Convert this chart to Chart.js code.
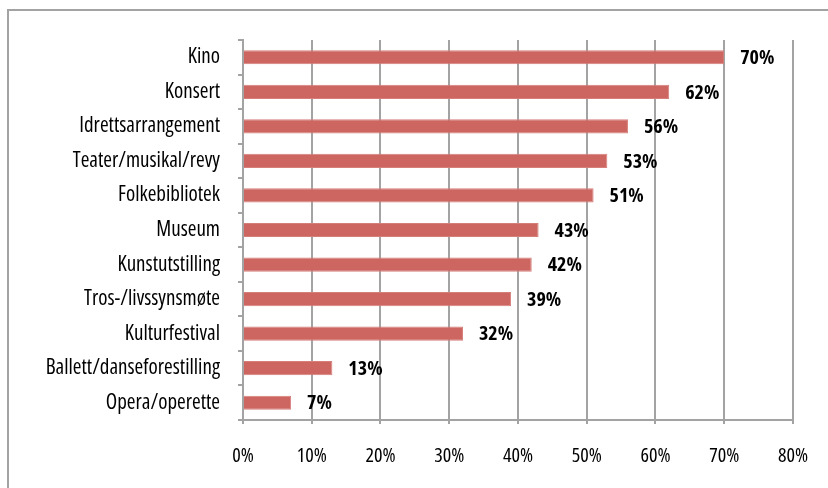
<!DOCTYPE html>
<html>
<head>
<meta charset="utf-8">
<script src="https://cdn.jsdelivr.net/npm/chart.js@4/dist/chart.umd.min.js"></script>
<style>
  html, body { margin: 0; padding: 0; background: #fff; overflow: hidden; }
  #wrap { position: relative; width: 828px; height: 488px; }
  #frame { position: absolute; left: 7px; top: 9px; width: 840px; height: 500px; border: 2px solid #a3a3a3; box-sizing: border-box; }
  canvas { position: absolute; left: 0; top: 0; }
</style>
</head>
<body>
<div id="wrap">
  <div id="frame"></div>
  <canvas id="chart" width="828" height="488"></canvas>
</div>
<script>
// Open Sans is variable, so 'condensed' in the font string gives a narrow face
const FONT = "'Open Sans', sans-serif";

const categories = ['Kino', 'Konsert', 'Idrettsarrangement', 'Teater/musikal/revy', 'Folkebibliotek',
  'Museum', 'Kunstutstilling', 'Tros-/livssynsmøte', 'Kulturfestival', 'Ballett/danseforestilling', 'Opera/operette'];
const values = [70, 62, 56, 53, 51, 43, 42, 39, 32, 13, 7];
const axisMax = 80;
const axisStep = 10;

const barLabels = {
  id: 'barLabels',
  afterDatasetsDraw(chart) {
    const ctx = chart.ctx;
    const meta = chart.getDatasetMeta(0);
    ctx.save();
    ctx.font = "bold condensed 20px " + FONT;
    ctx.fillStyle = '#000';
    ctx.textAlign = 'left';
    ctx.textBaseline = 'middle';
    meta.data.forEach((bar, i) => {
      ctx.fillText(values[i] + '%', bar.x + 16, bar.y + 1);
    });
    ctx.restore();
  }
};

new Chart(document.getElementById('chart'), {
  type: 'bar',
  data: {
    labels: categories,
    datasets: [{
      data: values,
      backgroundColor: '#cd6661',
      borderColor: '#d67f7a',
      borderWidth: 1,
      barPercentage: 0.41,
      categoryPercentage: 1
    }]
  },
  options: {
    indexAxis: 'y',
    responsive: false,
    animation: false,
    layout: { padding: { top: 40, right: 27, bottom: 0, left: 0 } },
    plugins: { legend: { display: false }, tooltip: { enabled: false } },
    scales: {
      x: {
        min: 0,
        max: axisMax,
        afterFit(scale) { scale.height = 68; },
        ticks: {
          stepSize: axisStep,
          color: '#000',
          padding: 20,
          font: { family: FONT, size: 20, weight: 'condensed' },
          callback: v => v + '%'
        },
        grid: { color: '#a3a3a3', lineWidth: 2, tickLength: 4 },
        border: { color: '#a3a3a3', width: 2 }
      },
      y: {
        afterFit(scale) { scale.width = 243; },
        ticks: {
          color: '#000',
          padding: 18,
          font: { family: FONT, size: 21, weight: 'condensed' }
        },
        grid: { drawOnChartArea: false, color: '#a3a3a3', lineWidth: 2, tickLength: 5 },
        border: { color: '#a3a3a3', width: 2 }
      }
    }
  },
  plugins: [barLabels]
});
</script>
</body>
</html>
